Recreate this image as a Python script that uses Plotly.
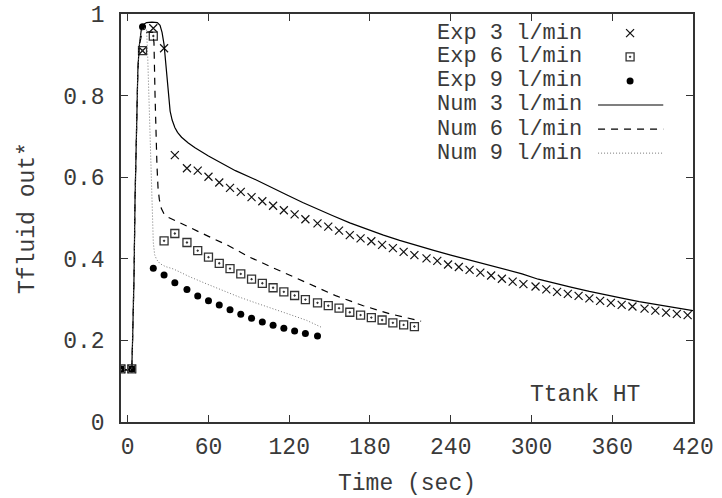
import plotly.graph_objects as go

# Sampling instants of the measured outlet temperature (s)
exp_t = [-5, 3, 11, 19, 27, 35, 44, 52, 60, 68, 76, 84, 92, 100, 108, 116, 124, 132,
         141, 149, 157, 165, 173, 181, 189, 197, 205, 213, 222, 230, 238, 246, 254,
         262, 270, 278, 286, 294, 303, 311, 319, 327, 335, 343, 351, 359, 367, 375,
         384, 392, 400, 408, 416]

# Measured dimensionless outlet temperature
exp3_y = [0.130, 0.130, 0.910, 0.965, 0.916, 0.654, 0.622, 0.616, 0.601, 0.587,
          0.574, 0.564, 0.551, 0.541, 0.530, 0.519, 0.509, 0.497, 0.487, 0.479,
          0.469, 0.458, 0.450, 0.443, 0.434, 0.426, 0.417, 0.409, 0.401, 0.395,
          0.386, 0.380, 0.373, 0.366, 0.359, 0.351, 0.344, 0.338, 0.332, 0.325,
          0.319, 0.314, 0.309, 0.303, 0.297, 0.292, 0.287, 0.283, 0.278, 0.273,
          0.268, 0.265, 0.262]
exp6_y = [0.130, 0.130, 0.910, 0.946, 0.444, 0.462, 0.440, 0.420, 0.404, 0.389,
          0.376, 0.363, 0.350, 0.340, 0.329, 0.319, 0.310, 0.300, 0.292, 0.285,
          0.279, 0.269, 0.262, 0.256, 0.250, 0.243, 0.238, 0.234]
exp9_y = [0.130, 0.130, 0.969, 0.377, 0.360, 0.341, 0.325, 0.309, 0.297, 0.287,
          0.275, 0.264, 0.254, 0.245, 0.237, 0.230, 0.223, 0.217, 0.211]

# Simulated outlet temperature
num3_t = [-5, 3, 3.6, 4.2, 4.7, 5.4, 6.5, 7.5, 8.5, 10, 12, 14, 18, 22, 24, 25.5, 27,
          28.2, 29.2, 30.3, 31.5, 33, 35, 37, 40, 45, 50, 60, 70, 80, 93, 105, 118,
          130, 140, 152, 165, 178, 190, 202, 215, 228, 240, 253, 265, 280, 293, 305,
          318, 330, 343, 355, 368, 380, 393, 405, 420]
num3_y = [0.128, 0.128, 0.2, 0.28, 0.36, 0.54, 0.75, 0.86, 0.92, 0.96, 0.975, 0.979,
          0.98, 0.979, 0.972, 0.955, 0.925, 0.88, 0.83, 0.79, 0.762, 0.74, 0.722,
          0.71, 0.698, 0.684, 0.672, 0.652, 0.634, 0.616, 0.597, 0.577, 0.557, 0.538,
          0.523, 0.506, 0.488, 0.472, 0.458, 0.445, 0.432, 0.42, 0.409, 0.398, 0.388,
          0.375, 0.363, 0.35, 0.339, 0.33, 0.32, 0.311, 0.303, 0.295, 0.288, 0.281,
          0.273]
num6_t = [-5, 3, 3.6, 4.2, 4.7, 5.4, 6.5, 7.5, 8.5, 10, 12, 15, 18.5, 19.5, 20.3, 21,
          21.7, 22.5, 23.5, 25, 27, 30, 35, 45, 60, 75, 90, 108, 125, 140, 155, 175,
          195, 218]
num6_y = [0.128, 0.128, 0.2, 0.28, 0.36, 0.54, 0.75, 0.86, 0.92, 0.945, 0.953, 0.956,
          0.955, 0.93, 0.8, 0.7, 0.63, 0.575, 0.545, 0.523, 0.51, 0.502, 0.494, 0.478,
          0.455, 0.432, 0.405, 0.378, 0.352, 0.331, 0.309, 0.285, 0.265, 0.247]
num9_t = [-5, 3, 3.6, 4.2, 4.7, 5.4, 6.5, 7.5, 8.5, 10, 12, 14, 14.8, 15.8, 17, 18,
          19, 20, 21.5, 24, 28, 34, 46, 59, 70, 83, 95, 108, 120, 133, 144]
num9_y = [0.128, 0.128, 0.2, 0.28, 0.36, 0.54, 0.75, 0.86, 0.92, 0.955, 0.966, 0.962,
          0.9, 0.78, 0.64, 0.53, 0.44, 0.41, 0.398, 0.388, 0.381, 0.375, 0.356, 0.338,
          0.323, 0.306, 0.292, 0.278, 0.264, 0.249, 0.232]

x_ticks = [0, 60, 120, 180, 240, 300, 360, 420]
y_ticks = [0, 0.2, 0.4, 0.6, 0.8, 1]
legend_labels = ["Exp 3 l/min", "Exp 6 l/min", "Exp 9 l/min",
                 "Num 3 l/min", "Num 6 l/min", "Num 9 l/min"]

FONT = "Liberation Mono"
INK = "#3a3a3a"
FS = 23
KEY_FS = 22

cross = dict(symbol="x-thin-open", size=8, color="#111", line=dict(color="#111", width=1.2))
boxdot = dict(symbol="square-open-dot", size=8, color="#333", line=dict(color="#333", width=1.3))
disc = dict(symbol="circle", size=7, color="#000", line=dict(width=0))
solid = dict(color="#000", width=1.2)
dashed = dict(color="#000", width=1.2, dash="7px,6px")
dotted = dict(color="#777", width=1, dash="1px,2px")

fig = go.Figure()
fig.add_trace(go.Scatter(x=exp_t, y=exp3_y, mode="markers", marker=cross))
fig.add_trace(go.Scatter(x=exp_t[:len(exp6_y)], y=exp6_y, mode="markers", marker=boxdot))
fig.add_trace(go.Scatter(x=exp_t[:len(exp9_y)], y=exp9_y, mode="markers", marker=disc))
fig.add_trace(go.Scatter(x=num3_t, y=num3_y, mode="lines", line=solid))
fig.add_trace(go.Scatter(x=num6_t, y=num6_y, mode="lines", line=dashed))
fig.add_trace(go.Scatter(x=num9_t, y=num9_y, mode="lines", line=dotted))

# Key drawn gnuplot-style: label on the left, sample on the right
row_y = [0.953, 0.895, 0.836, 0.777, 0.718, 0.659]
styles = [("m", cross), ("m", boxdot), ("m", disc), ("l", solid), ("l", dashed), ("l", dotted)]
for (kind, st), ry, lab in zip(styles, row_y, legend_labels):
    if kind == "m":
        fig.add_trace(go.Scatter(x=[0.89], y=[ry], mode="markers", marker=st,
                                 xaxis="x2", yaxis="y2"))
    else:
        fig.add_trace(go.Scatter(x=[0.834, 0.948], y=[ry, ry], mode="lines", line=st,
                                 xaxis="x2", yaxis="y2"))
    fig.add_annotation(x=0.808, y=ry, xref="paper", yref="paper", text=lab,
                       showarrow=False, xanchor="right", yanchor="middle",
                       borderpad=0,
                       font=dict(family=FONT, size=KEY_FS, color=INK))

fig.add_annotation(x=0.812, y=0.066, xref="paper", yref="paper", text="Ttank HT",
                   showarrow=False, xanchor="center", yanchor="middle",
                   font=dict(family=FONT, size=FS, color=INK))

axis_common = dict(showline=True, linecolor="#333", linewidth=1.5, mirror="ticks",
                   ticks="inside", ticklen=7, tickwidth=1.2, tickcolor="#333",
                   showgrid=False, zeroline=False, automargin=False,
                   tickfont=dict(family=FONT, size=FS, color=INK))

fig.update_layout(
    width=722, height=498,
    margin=dict(l=121, r=29, t=14, b=76),
    paper_bgcolor="white", plot_bgcolor="white",
    showlegend=False,
    xaxis=dict(range=[-5, 420], tickvals=x_ticks, ticktext=[str(v) for v in x_ticks],
               ticklabelstandoff=3,
               title=dict(text="Time (sec)", standoff=14,
                          font=dict(family=FONT, size=FS, color=INK)),
               **axis_common),
    yaxis=dict(range=[0, 1], tickvals=y_ticks, ticktext=[f"{v:g}" for v in y_ticks],
               ticklabelstandoff=10,
               title=dict(text="Tfluid out*", standoff=22,
                          font=dict(family=FONT, size=FS, color=INK)),
               **axis_common),
    xaxis2=dict(range=[0, 1], overlaying="x", visible=False, anchor="y2"),
    yaxis2=dict(range=[0, 1], overlaying="y", visible=False, anchor="x2"),
)

fig.write_html("out.html")
